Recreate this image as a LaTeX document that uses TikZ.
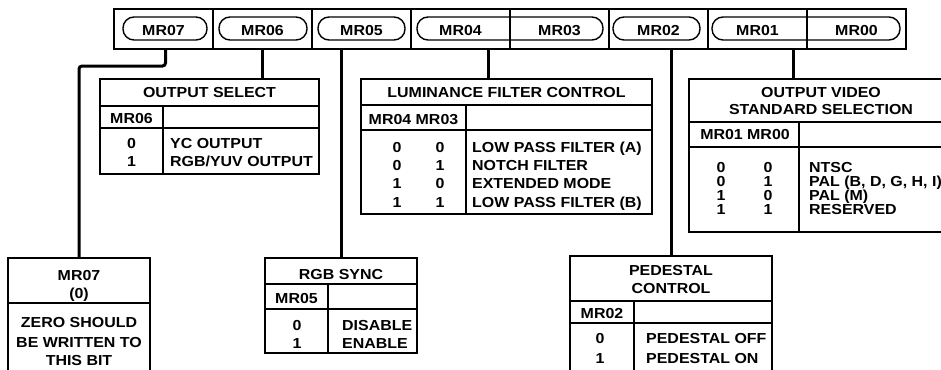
\documentclass[tikz,border=0pt]{standalone}
\usepackage{fontspec}
\setmainfont{Liberation Sans}[FakeStretch=1.1]
\begin{document}
\begin{tikzpicture}[x=1pt,y=-1pt,
  txt/.style={font=\bfseries\fontsize{14.5}{16}\selectfont, inner sep=0pt, anchor=base},
  ltxt/.style={txt, anchor=base west},
  regcell/.style={draw, line width=1.2pt, minimum width=99pt, minimum height=40pt, anchor=north west, inner sep=0pt, outer sep=0pt},
  tbox/.style={draw, line width=1.8pt, anchor=north west, inner sep=0pt, outer sep=0pt},
  innerline/.style={line width=1.2pt},
  pill/.style={line width=1.4pt, rounded corners=11pt},
  wire/.style={line width=3pt}]
\useasboundingbox (0,0) rectangle (941,369);
\clip (0,0) rectangle (941,369);

% register bar
\foreach \i/\n in {0/7,1/6,2/5,3/4,4/3,5/2,6/1,7/0}
  \node[regcell] (r\n) at ({114+99*\i},9) {};
\draw[line width=1.6pt] (114,9) rectangle (906,49);
\draw[pill] (123,17) rectangle (207,40);
\draw[pill] (219,17) rectangle (307,40);
\draw[pill] (318,17) rectangle (405,40);
\draw[pill] (417,17) rectangle (603,40);
\draw[pill] (613,17) rectangle (700,40);
\draw[pill] (712,17) rectangle (900,40);
\node[txt] (l7) at (r7.center |- 0,36) {MR07};
\node[txt] (l6) at (r6.center |- 0,36) {MR06};
\node[txt] (l5) at (r5.center |- 0,36) {MR05};
\node[txt] (l4) at (r4.center |- 0,36) {MR04};
\node[txt] (l3) at (r3.center |- 0,36) {MR03};
\node[txt] (l2) at (r2.center |- 0,36) {MR02};
\node[txt] (l1) at (r1.center |- 0,36) {MR01};
\node[txt] (l0) at (r0.center |- 0,36) {MR00};

% boxes
\node[tbox, minimum width=219pt, minimum height=95pt] (osel) at (100,79) {};
\node[tbox, minimum width=291pt, minimum height=135pt] (lum) at (361,79) {};
\node[tbox, minimum width=263pt, minimum height=153pt] (vid) at (689,79) {};
\node[tbox, minimum width=142pt, minimum height=130pt] (b7) at (8,258) {};
\node[tbox, minimum width=152pt, minimum height=95pt] (b5) at (265,258) {};
\node[tbox, minimum width=202pt, minimum height=130pt] (ped) at (570,256) {};

% connectors
\draw[wire, rounded corners=3pt] ([xshift=2pt]r7.south) -- ++(0,17) -| (b7.north);
\draw[wire] (r6.south) -- (r6.south |- osel.north);
\draw[wire] (b5.north |- r5.south) -- (b5.north);
\draw[wire] ([xshift=27.5pt]r4.south) -- ([xshift=27.5pt]r4.south |- lum.north);
\draw[wire] (ped.north |- r2.south) -- (ped.north);
\draw[wire] ([xshift=35.5pt]r1.south) -- ([xshift=35.5pt]r1.south |- vid.north);

% OUTPUT SELECT
\draw[innerline] (100,106) -- (319,106);
\draw[innerline] (100,128) -- (319,128);
\draw[innerline] (163,106) -- (163,174);
\node[txt] (os-t) at (209.5,97) {OUTPUT SELECT};
\node[txt] (os-h) at (131.5,123) {MR06};
\node[txt] (os-v0) at (131.5,148) {0};
\node[txt] (os-v1) at (131.5,166.5) {1};
\node[ltxt] (os-d0) at (170,148) {YC OUTPUT};
\node[ltxt] (os-d1) at (170,166.5) {RGB/YUV OUTPUT};

% LUMINANCE FILTER CONTROL
\draw[innerline] (361,105) -- (652,105);
\draw[innerline] (361,130) -- (652,130);
\draw[innerline] (466,105) -- (466,214);
\node[txt] (lf-t) at (506.5,97) {LUMINANCE FILTER CONTROL};
\node[txt] (lf-h) at (413.5,124) {MR04 MR03};
\foreach \k/\a/\b/\d/\y in {0/0/0/LOW PASS FILTER (A)/152.5,1/0/1/NOTCH FILTER/170.5,2/1/0/EXTENDED MODE/188.8,3/1/1/LOW PASS FILTER (B)/207}{
  \node[txt] (lf-a\k) at (397,\y) {\a};
  \node[txt] (lf-b\k) at (440,\y) {\b};
  \node[ltxt] (lf-d\k) at (472,\y) {\d};
}

% OUTPUT VIDEO STANDARD SELECTION
\draw[innerline] (689,122) -- (952,122);
\draw[innerline] (689,147) -- (952,147);
\draw[innerline] (799,122) -- (799,232);
\node[txt] (vs-t1) at (821,97) {OUTPUT VIDEO};
\node[txt] (vs-t2) at (821,114) {STANDARD SELECTION};
\node[txt] (vs-h) at (745,139) {MR01 MR00};
\foreach \k/\a/\b/\d/\y in {0/0/0/NTSC/172.3,1/0/1/{PAL (B, D, G, H, I)}/186.3,2/1/0/PAL (M)/200.2,3/1/1/RESERVED/214}{
  \node[txt] (vs-a\k) at (721,\y) {\a};
  \node[txt] (vs-b\k) at (768,\y) {\b};
  \node[ltxt] (vs-d\k) at (809,\y) {\d};
}

% MR07
\draw[innerline] (8,303) -- (150,303);
\node[txt] (m7-t1) at (79,280) {MR07};
\node[txt] (m7-t2) at (79,298) {(0)};
\node[txt] (m7-d1) at (79,327) {ZERO SHOULD};
\node[txt] (m7-d2) at (79,347.5) {BE WRITTEN TO};
\node[txt] (m7-d3) at (79,365.5) {THIS BIT};

% RGB SYNC
\draw[innerline] (265,284) -- (417,284);
\draw[innerline] (265,309) -- (417,309);
\draw[innerline] (328,284) -- (328,353);
\node[txt] (rs-t) at (341,279) {RGB SYNC};
\node[txt] (rs-h) at (296.5,303) {MR05};
\node[txt] (rs-v0) at (297,330) {0};
\node[txt] (rs-v1) at (297,348) {1};
\node[ltxt] (rs-d0) at (342,330) {DISABLE};
\node[ltxt] (rs-d1) at (342,348) {ENABLE};

% PEDESTAL CONTROL
\draw[innerline] (570,301) -- (772,301);
\draw[innerline] (570,323) -- (772,323);
\draw[innerline] (634,301) -- (634,390);
\node[txt] (pc-t1) at (671,275) {PEDESTAL};
\node[txt] (pc-t2) at (671,293) {CONTROL};
\node[txt] (pc-h) at (602,318) {MR02};
\node[txt] (pc-v0) at (600,343) {0};
\node[txt] (pc-v1) at (600,363) {1};
\node[ltxt] (pc-d0) at (646,343) {PEDESTAL OFF};
\node[ltxt] (pc-d1) at (646,363) {PEDESTAL ON};
\end{tikzpicture}
\end{document}
